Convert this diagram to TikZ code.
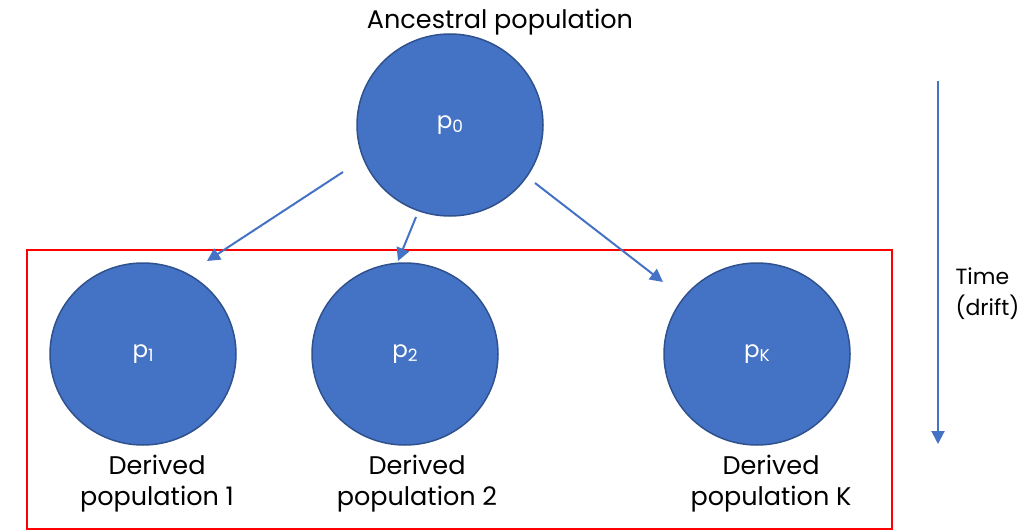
\documentclass[tikz,border=0pt]{standalone}
\usepackage{fontspec}
\setmainfont{Poppins}
\usetikzlibrary{arrows.meta,shapes.geometric}
\definecolor{popblue}{HTML}{4472C4}
\definecolor{popedge}{HTML}{2F528F}
\tikzset{
  pop/.style={ellipse, draw=popedge, line width=1.5pt, fill=popblue, text=white, minimum width=186pt, minimum height=182pt, inner sep=0pt, font=\fontsize{23}{26}\selectfont},
  lbl/.style={align=center, font=\fontsize{25.5}{31}\selectfont, text=black},
  conn/.style={draw=popblue, line width=2pt, -{Triangle[length=13pt,width=13pt]}}
}
\newcommand{\subsc}[1]{\raisebox{-4pt}{\fontsize{17}{17}\selectfont #1}}
\begin{document}
\begin{tikzpicture}[x=1pt,y=-1pt]
\useasboundingbox (0,0) rectangle (1019,532);
\node[lbl] (anc) at (500,22) {Ancestral population};
\node[pop] (p0) at (450,125) {p\subsc{0}};
\node[pop] (p1) at (143,354) {p\subsc{1}};
\node[pop] (p2) at (405,354) {p\subsc{2}};
\node[pop] (pK) at (757,354) {p\subsc{K}};
\node[lbl] (d1) at (157,484) {Derived\\population 1};
\node[lbl] (d2) at (417,484) {Derived\\population 2};
\node[lbl] (dK) at (771,484) {Derived\\population K};
\draw[red, line width=2.5pt] (27,250) rectangle (892,529);
\coordinate (a1s) at (343,172);
\coordinate (a1e) at (207,261);
\coordinate (a2s) at (416,217);
\coordinate (a2e) at (398,261);
\coordinate (a3s) at (535,183);
\coordinate (a3e) at (663,282);
\draw[conn] (a1s) -- (a1e);
\draw[conn] (a2s) -- (a2e);
\draw[conn] (a3s) -- (a3e);
\coordinate (ts) at (938,81);
\coordinate (te) at (938,444);
\draw[conn] (ts) -- (te);
\node[lbl, align=left, anchor=west, font=\fontsize{22}{31}\selectfont] (time) at (952,294) {Time\\(drift)};
\end{tikzpicture}
\end{document}
